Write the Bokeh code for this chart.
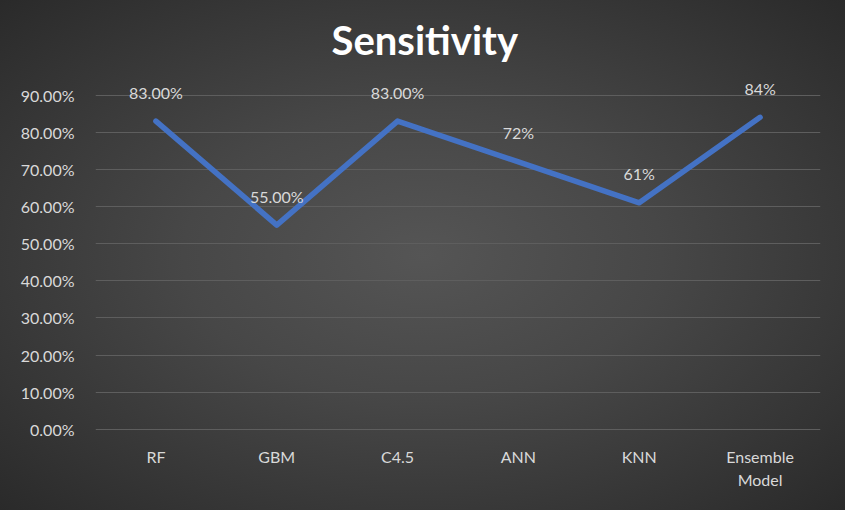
from bokeh.plotting import figure
from bokeh.models import ColumnDataSource, FactorRange, FixedTicker, NumeralTickFormatter, LabelSet
from bokeh.core.properties import value
from bokeh.embed import file_html
from bokeh.resources import INLINE

# Sensitivity of each model
models = ["RF", "GBM", "C4.5", "ANN", "KNN", "Ensemble\nModel"]
sensitivity = [0.83, 0.55, 0.83, 0.72, 0.61, 0.84]
value_labels = ["83.00%", "55.00%", "83.00%", "72%", "61%", "84%"]
y_ticks = [0.0, 0.1, 0.2, 0.3, 0.4, 0.5, 0.6, 0.7, 0.8, 0.9]

FONT = "Lato"
TEXT_COLOR = "#d9d9d9"

src = ColumnDataSource(dict(model=models, value=sensitivity, label=value_labels))

p = figure(
    width=845, height=510,
    x_range=FactorRange(*models, range_padding=0),
    y_range=(-0.003, 0.95),
    output_backend="svg", toolbar_location=None,
    min_border_left=95, min_border_right=25, min_border_bottom=80, min_border_top=65,
)

# dark radial background behind a transparent canvas
p.styles = {"background": "radial-gradient(ellipse at 50% 50%, #555555 0%, #474747 40%, #2a2a2a 100%)"}
p.border_fill_alpha = 0
p.background_fill_alpha = 0
p.outline_line_color = None

p.title.text = "Sensitivity"
p.title.align = "left"
p.title.offset = 232
p.title.text_font = FONT
p.title.text_font_style = "bold"
p.title.text_font_size = "40px"
p.title.text_color = "#ffffff"
p.title.padding = 4
p.title.standoff = 18

# axes
p.yaxis.ticker = FixedTicker(ticks=y_ticks)
p.yaxis.formatter = NumeralTickFormatter(format="0.00%")
for ax in (p.xaxis[0], p.yaxis[0]):
    ax.axis_line_color = None
    ax.major_tick_line_color = None
    ax.minor_tick_line_color = None
    ax.major_label_text_font = FONT
    ax.major_label_text_font_size = "16px"
    ax.major_label_text_color = TEXT_COLOR
p.yaxis.major_label_standoff = 15
p.xaxis.major_label_standoff = 10
p.xaxis.major_label_text_line_height = 1.25

p.xgrid.grid_line_color = None
p.ygrid.ticker = FixedTicker(ticks=y_ticks)
p.ygrid.grid_line_color = "#5e5e5e"
p.ygrid.grid_line_width = 1

p.line(x="model", y="value", source=src, line_color="#4472C4", line_width=5.5,
       line_join="round", line_cap="round")

labels = LabelSet(x="model", y="value", text="label", source=src,
                  text_font=value(FONT), text_font_size="16px", text_color=TEXT_COLOR,
                  text_align="center", text_baseline="middle", y_offset=29)
p.add_layout(labels)

open("out.html", "w").write(file_html(p, INLINE))
